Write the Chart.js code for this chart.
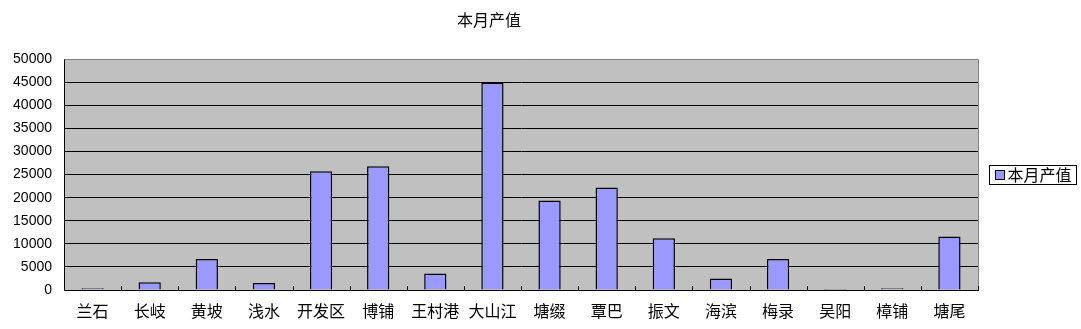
<!DOCTYPE html>
<html>
<head>
<meta charset="utf-8">
<script src="https://cdn.jsdelivr.net/npm/chart.js@4/dist/chart.umd.min.js"></script>
<style>
  html, body { margin: 0; padding: 0; background: #ffffff; }
  #wrap { position: relative; width: 1081px; height: 329px; }
</style>
</head>
<body>
<div id="wrap"><canvas id="c" width="1081" height="329"></canvas></div>
<script>
// 各站点本月产值
const chartTitle = '本月产值';
const seriesName = '本月产值';
const categories = ['兰石', '长岐', '黄坡', '浅水', '开发区', '博铺', '王村港', '大山江',
                    '塘缀', '覃巴', '振文', '海滨', '梅录', '吴阳', '樟铺', '塘尾'];
const values = [400, 1700, 6700, 1500, 25700, 26800, 3600, 44900,
                19400, 22200, 11200, 2500, 6700, 200, 400, 11600];
const yMax = 50000;
const yStep = 5000;

const CJK = '"Noto Sans CJK SC", "Noto Sans", sans-serif';
const NUM = '"Liberation Sans", Arial, sans-serif';
const barFill = '#9999FF';
const plotFill = '#C0C0C0';

// Gray plot background, outer frame, inward category ticks and a boxed legend
const plotDecor = {
  id: 'plotDecor',
  beforeDraw(chart) {
    const a = chart.chartArea, ctx = chart.ctx;
    ctx.save();
    ctx.fillStyle = plotFill;
    ctx.fillRect(a.left, a.top, a.right - a.left, a.bottom - a.top);
    ctx.restore();
  },
  afterDraw(chart) {
    const a = chart.chartArea, ctx = chart.ctx;
    const xs = chart.scales.x;
    ctx.save();
    // top and right frame
    ctx.strokeStyle = '#808080';
    ctx.lineWidth = 1;
    ctx.beginPath();
    ctx.moveTo(Math.round(a.left) + 0.5, Math.round(a.top) + 0.5);
    ctx.lineTo(Math.round(a.right) + 0.5, Math.round(a.top) + 0.5);
    ctx.lineTo(Math.round(a.right) + 0.5, Math.round(a.bottom) + 0.5);
    ctx.stroke();
    // category boundary ticks pointing into the plot
    ctx.strokeStyle = '#000000';
    const n = categories.length;
    const slot = (xs.right - xs.left) / n;
    ctx.beginPath();
    for (let i = 1; i <= n; i++) {
      const x = Math.round(xs.left + i * slot) + 0.5;
      ctx.moveTo(x, a.bottom - 4);
      ctx.lineTo(x, a.bottom);
    }
    ctx.stroke();
    // bottom axis line
    ctx.beginPath();
    ctx.moveTo(a.left, Math.round(a.bottom) + 0.5);
    ctx.lineTo(a.right + 1, Math.round(a.bottom) + 0.5);
    ctx.stroke();

    // legend
    const ds = chart.data.datasets[0];
    ctx.font = '16px ' + CJK;
    const tw = ctx.measureText(ds.label).width;
    const bx = Math.round(a.right) + 11.5;
    const cy = Math.round((a.top + a.bottom) / 2);
    const bh = 19;
    const by = cy - 10 + 0.5;
    const bw = 6 + 9 + 3 + tw + 5;
    ctx.strokeStyle = '#000000';
    ctx.strokeRect(bx, by, bw, bh);
    ctx.fillStyle = ds.backgroundColor;
    ctx.fillRect(bx + 6, cy - 5, 9, 9);
    ctx.strokeRect(bx + 6, cy - 5 + 0.5, 9, 9);
    ctx.fillStyle = '#000000';
    ctx.textBaseline = 'middle';
    ctx.textAlign = 'left';
    ctx.fillText(ds.label, bx + 18, cy);
    ctx.restore();
  }
};

new Chart(document.getElementById('c'), {
  type: 'bar',
  data: {
    labels: categories,
    datasets: [{
      label: seriesName,
      data: values,
      backgroundColor: barFill,
      borderColor: '#000000',
      borderWidth: 1.5,
      barPercentage: 0.39,
      categoryPercentage: 1.0
    }]
  },
  options: {
    responsive: false,
    animation: false,
    layout: { padding: { left: 0, right: 103, top: 0, bottom: 0 } },
    plugins: {
      legend: { display: false },
      tooltip: { enabled: false },
      title: {
        display: true,
        text: chartTitle,
        color: '#000000',
        font: { family: CJK, size: 16, weight: 'normal', lineHeight: 1.2 },
        padding: { top: 10, bottom: 30 }
      }
    },
    scales: {
      x: {
        offset: true,
        grid: { display: true, drawOnChartArea: false, drawTicks: false },
        border: { display: false },
        ticks: {
          color: '#000000',
          font: { family: CJK, size: 16 },
          padding: 11,
          maxRotation: 0,
          autoSkip: false
        },
        afterFit(scale) { scale.height = 39; }
      },
      y: {
        min: 0,
        max: yMax,
        grid: {
          color: (c) => (c.tick && c.tick.value === yMax) ? '#808080' : '#000000',
          lineWidth: 1,
          drawTicks: false
        },
        border: { display: true, color: '#000000', width: 1 },
        ticks: {
          stepSize: yStep,
          color: '#000000',
          font: { family: NUM, size: 14 },
          padding: 12,
          callback: (v) => String(v)
        },
        afterFit(scale) { scale.width = 64; }
      }
    }
  },
  plugins: [plotDecor]
});
</script>
</body>
</html>
